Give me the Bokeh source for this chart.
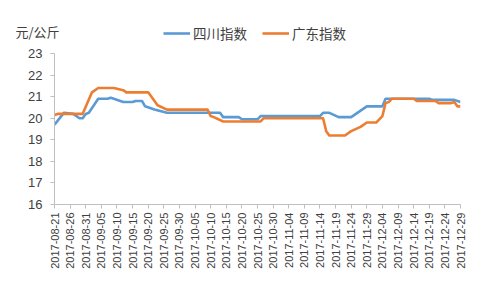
import math
from datetime import datetime, timedelta
from bokeh.plotting import figure
from bokeh.models import (Range1d, FixedTicker, DatetimeTickFormatter, Legend,
                          LegendItem, Label)
from bokeh.embed import file_html
from bokeh.resources import INLINE

# ---- data (vertices) ----
start_date = "2017-08-21"
end_date = "2017-12-29"

sichuan_dates = [
    "2017-08-21", "2017-08-24", "2017-08-27", "2017-08-29", "2017-08-30",
    "2017-08-31", "2017-09-01", "2017-09-04", "2017-09-07", "2017-09-08",
    "2017-09-09", "2017-09-12", "2017-09-15", "2017-09-16", "2017-09-18",
    "2017-09-19", "2017-09-22", "2017-09-26", "2017-10-13", "2017-10-14",
    "2017-10-19", "2017-10-20", "2017-10-25", "2017-10-26", "2017-11-14",
    "2017-11-15", "2017-11-17", "2017-11-20", "2017-11-24", "2017-11-29",
    "2017-12-04", "2017-12-05", "2017-12-19", "2017-12-20", "2017-12-27",
    "2017-12-29",
]
sichuan_values = [
    19.7, 20.25, 20.2, 20.0, 20.0,
    20.2, 20.25, 20.9, 20.9, 20.95,
    20.9, 20.75, 20.75, 20.8, 20.8,
    20.55, 20.4, 20.25, 20.25, 20.05,
    20.05, 19.95, 19.95, 20.1, 20.1,
    20.25, 20.25, 20.05, 20.05, 20.55,
    20.55, 20.9, 20.9, 20.85, 20.85,
    20.75,
]

guangdong_dates = [
    "2017-08-21", "2017-08-22", "2017-08-30", "2017-09-02", "2017-09-04",
    "2017-09-09", "2017-09-12", "2017-09-13", "2017-09-20", "2017-09-23",
    "2017-09-26", "2017-10-09", "2017-10-10", "2017-10-11", "2017-10-14",
    "2017-10-26", "2017-10-27", "2017-11-15", "2017-11-16", "2017-11-17",
    "2017-11-22", "2017-11-24", "2017-11-27", "2017-11-29", "2017-12-02",
    "2017-12-04", "2017-12-05", "2017-12-06", "2017-12-07", "2017-12-14",
    "2017-12-15", "2017-12-21", "2017-12-22", "2017-12-26", "2017-12-27",
    "2017-12-28", "2017-12-29",
]
guangdong_values = [
    20.15, 20.2, 20.2, 21.2, 21.4,
    21.4, 21.3, 21.2, 21.2, 20.6,
    20.4, 20.4, 20.1, 20.05, 19.85,
    19.85, 20.0, 20.0, 19.4, 19.2,
    19.2, 19.4, 19.6, 19.8, 19.8,
    20.1, 20.7, 20.75, 20.9, 20.9,
    20.8, 20.8, 20.7, 20.7, 20.75,
    20.55, 20.55,
]

y_ticks = [16, 17, 18, 19, 20, 21, 22, 23]
series_names = ["四川指数", "广东指数"]
series_colors = ["#5B9BD5", "#ED7D31"]
unit_label = "元/公斤"

# ---- helpers ----
def to_dt(s):
    return datetime.strptime(s, "%Y-%m-%d")

d0 = to_dt(start_date)
d1 = to_dt(end_date)
tick_dates = []
d = d0
while d <= d1:
    tick_dates.append(d)
    d += timedelta(days=5)
tick_ms = [t.timestamp() * 1000 for t in tick_dates]

CJK = "Noto Sans CJK SC"
NUM = "Liberation Sans"
TXT = "#404040"
LW = 2.6
TOP_H = 44
W = 488
H = 289
NAN = float("nan")

# ---- header strip: unit label + legend ----
top = figure(width=W, height=TOP_H, output_backend="svg", toolbar_location=None,
             x_range=Range1d(0, W), y_range=Range1d(0, TOP_H),
             x_axis_location=None, y_axis_location=None,
             min_border=0, min_border_left=0, min_border_right=0,
             min_border_top=0, min_border_bottom=0)
top.grid.visible = False
top.outline_line_color = None
# legend-only renderers (no visible data)
lg1 = top.line([NAN], [NAN], line_color=series_colors[0], line_width=LW)
lg2 = top.line([NAN], [NAN], line_color=series_colors[1], line_width=LW)
legend = Legend(items=[LegendItem(label=series_names[0], renderers=[lg1]),
                       LegendItem(label=series_names[1], renderers=[lg2])],
                orientation="horizontal", location=(163, 1),
                label_text_font=CJK, label_text_font_size="13.5px",
                label_text_color=TXT, glyph_width=27, glyph_height=16,
                label_height=16, spacing=15, padding=0, margin=0,
                border_line_color=None, background_fill_alpha=0,
                label_standoff=3)
top.add_layout(legend)
top.add_layout(Label(x=15, y=TOP_H - 31, x_units="screen", y_units="screen",
                     text=unit_label, text_font=CJK, text_font_size="13px",
                     text_baseline="middle", text_color=TXT))

# ---- main chart ----
p = figure(width=W, height=H - TOP_H, output_backend="svg",
           toolbar_location=None, x_axis_type="datetime",
           x_range=Range1d(d0, d1), y_range=Range1d(16, 23))
p.min_border_left = 54
p.min_border_right = 28
p.min_border_top = 9
p.min_border_bottom = 85
p.outline_line_color = None
p.background_fill_color = "white"
p.border_fill_color = "white"
p.xgrid.grid_line_color = None
p.ygrid.grid_line_color = None

p.line([to_dt(s) for s in sichuan_dates], sichuan_values,
       line_color=series_colors[0], line_width=LW, line_join="round")
p.line([to_dt(s) for s in guangdong_dates], guangdong_values,
       line_color=series_colors[1], line_width=LW, line_join="round")

xa = p.xaxis[0]
xa.ticker = FixedTicker(ticks=tick_ms)
xa.formatter = DatetimeTickFormatter(days="%Y-%m-%d", months="%Y-%m-%d",
                                     hours="%Y-%m-%d", years="%Y-%m-%d")
xa.major_label_orientation = math.pi / 2
xa.major_label_text_font = NUM
xa.major_label_text_font_size = "11px"
xa.major_label_text_color = TXT
xa.axis_line_color = "#BFBFBF"
xa.major_tick_line_color = "#BFBFBF"
xa.major_tick_in = 0
xa.major_tick_out = 4
xa.minor_tick_line_color = None
xa.major_label_standoff = 4

ya = p.yaxis[0]
ya.ticker = FixedTicker(ticks=y_ticks)
ya.major_label_text_font = NUM
ya.major_label_text_font_size = "13px"
ya.major_label_text_color = TXT
ya.axis_line_color = "#BFBFBF"
ya.major_tick_line_color = "#BFBFBF"
ya.major_tick_in = 0
ya.major_tick_out = 4
ya.minor_tick_line_color = None
ya.major_label_standoff = 8

open("out.html", "w").write(file_html([top, p], INLINE))
